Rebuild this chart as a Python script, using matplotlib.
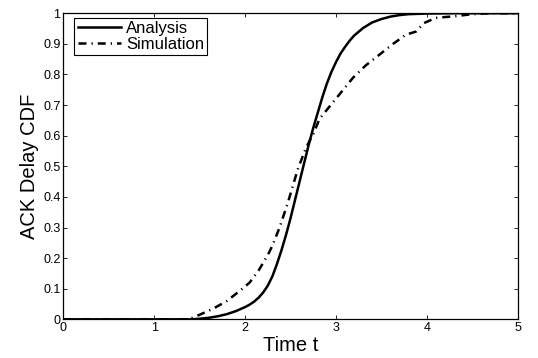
import matplotlib
matplotlib.use("Agg")
import matplotlib.pyplot as plt

# Analysis curve
t_analysis = [0.0, 1.0, 1.4, 1.5, 1.6, 1.7, 1.8, 1.9, 2.0, 2.05, 2.1, 2.15,
              2.2, 2.25, 2.3, 2.35, 2.4, 2.45, 2.5, 2.55, 2.6, 2.65, 2.7,
              2.75, 2.8, 2.85, 2.9, 2.95, 3.0, 3.05, 3.1, 3.15, 3.2, 3.3, 3.4,
              3.5, 3.6, 3.7, 3.8, 4.0, 4.3, 5.0]
cdf_analysis = [0.0, 0.0, 0.0, 0.002, 0.005, 0.010, 0.017, 0.027, 0.04, 0.048,
                0.058, 0.071, 0.088, 0.11, 0.14, 0.18, 0.225, 0.275, 0.33,
                0.39, 0.45, 0.51, 0.57, 0.625, 0.675, 0.725, 0.77, 0.808,
                0.84, 0.868, 0.89, 0.91, 0.927, 0.952, 0.97, 0.981, 0.989,
                0.994, 0.997, 0.999, 1.0, 1.0]

# Simulation curve
t_sim = [0.0, 1.0, 1.38, 1.5, 1.65, 1.8, 1.95, 2.05, 2.15, 2.25, 2.3, 2.38,
         2.47, 2.58, 2.67, 2.75, 2.82, 2.97, 3.08, 3.19, 3.33, 3.48, 3.63,
         3.77, 3.88, 3.97, 4.1, 4.3, 4.5, 4.7, 5.0]
cdf_sim = [0.0, 0.0, 0.0, 0.015, 0.035, 0.06, 0.095, 0.12, 0.16, 0.21, 0.24,
           0.30, 0.38, 0.49, 0.56, 0.605, 0.655, 0.71, 0.75, 0.79, 0.83, 0.865,
           0.90, 0.93, 0.94, 0.968, 0.985, 0.99, 0.997, 1.0, 1.0]

xticks = [0, 1, 2, 3, 4, 5]
yticks = [0, 0.1, 0.2, 0.3, 0.4, 0.5, 0.6, 0.7, 0.8, 0.9, 1]
ytick_labels = ["0", "0.1", "0.2", "0.3", "0.4", "0.5", "0.6", "0.7", "0.8", "0.9", "1"]

plt.rcParams['font.family'] = ['Liberation Sans', 'DejaVu Sans']

fig = plt.figure(figsize=(5.38, 3.58), dpi=100)
ax = fig.add_axes([0.1177, 0.108, 0.8445, 0.855])

ax.plot(t_analysis, cdf_analysis, color='black', linewidth=1.8, label='Analysis')
ax.plot(t_sim, cdf_sim, color='black', linewidth=1.8,
        linestyle=(0, (3.2, 2.0, 0.5, 2.0)), label='Simulation')

ax.set_xlim(0, 5)
ax.set_ylim(0, 1)
ax.set_xticks(xticks)
ax.set_xticklabels([str(v) for v in xticks])
ax.set_yticks(yticks)
ax.set_yticklabels(ytick_labels)
ax.tick_params(direction='in', top=True, right=True, length=3, width=0.6,
               labelsize=9, pad=2)
for s in ax.spines.values():
    s.set_linewidth(0.9)

ax.set_xlabel('Time t', fontsize=14.5, labelpad=1)
ax.set_ylabel('ACK Delay CDF', fontsize=14.5, labelpad=3)

leg = ax.legend(loc='upper left', bbox_to_anchor=(0.024, 0.985), borderaxespad=0,
                fontsize=12, fancybox=False, framealpha=1, edgecolor='black',
                handlelength=2.6, handletextpad=0.3, borderpad=0.2,
                labelspacing=0.05)
leg.get_frame().set_linewidth(0.8)

fig.savefig('out.png', dpi=100)
